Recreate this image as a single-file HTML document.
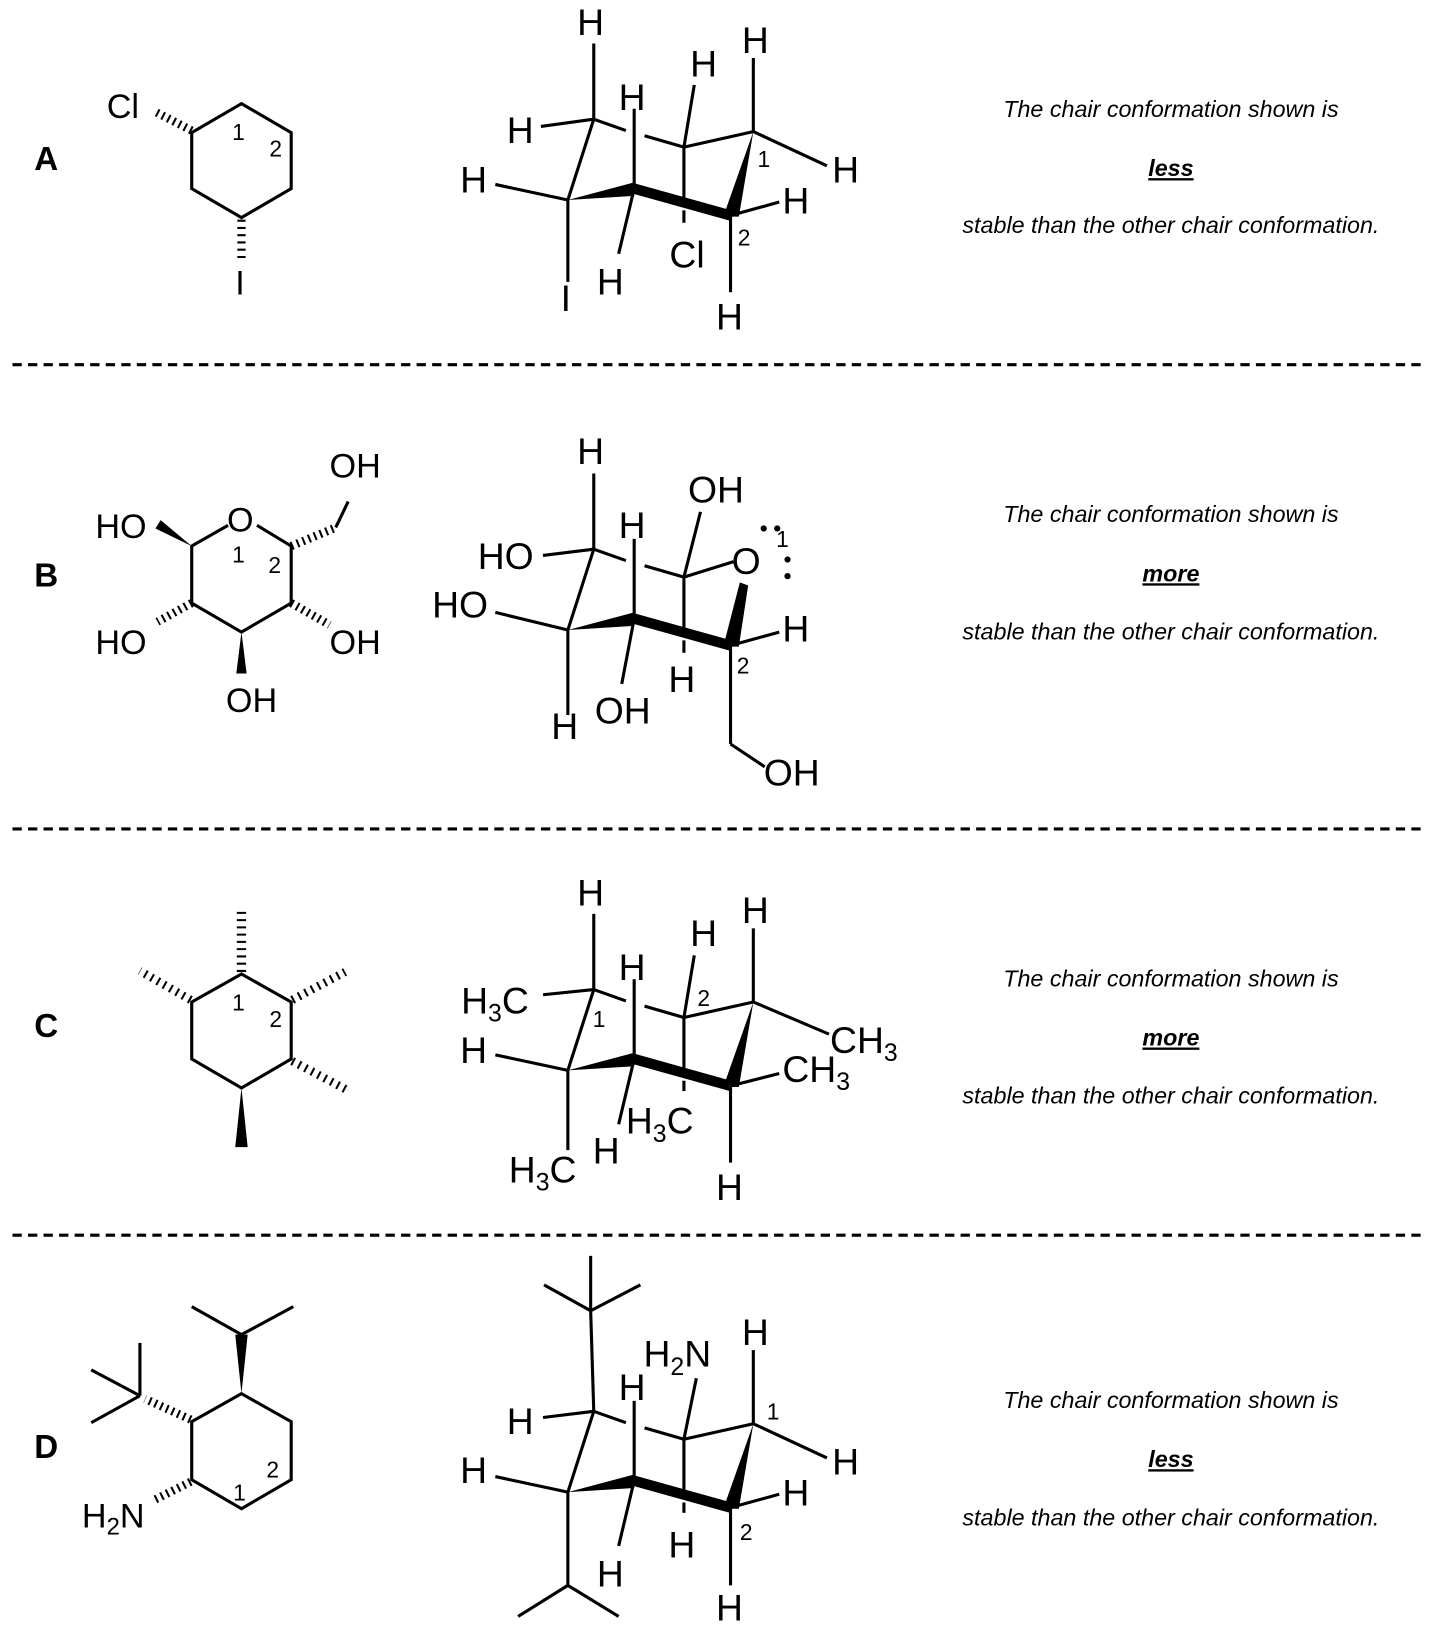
<!DOCTYPE html>
<html><head><meta charset="utf-8"><style>
html,body{margin:0;padding:0;background:#fff}
svg{display:block}
text{font-family:"Liberation Sans",sans-serif;fill:#000}
.a{font-size:36px}
.r{font-size:33px}
.n{font-size:22px}
.L{font-size:32px;font-weight:bold}
.t{font-size:22.5px;font-style:italic}
.tb{font-size:22.5px;font-style:italic;font-weight:bold;text-decoration:underline}
</style></head><body>
<svg width="1430" height="1632" viewBox="0 0 1380 1575" xmlns="http://www.w3.org/2000/svg">
<defs>
<g id="chair" stroke="#000" stroke-width="3" fill="none">
<line x1="573" y1="115" x2="548" y2="193"/>
<polygon points="548,193 612,176 612,189" fill="#000" stroke="none"/>
<line x1="612" y1="182" x2="705" y2="208" stroke-width="10"/>
<polygon points="698,209 713,209 727,127" fill="#000" stroke="none"/>
<line x1="727" y1="127" x2="660" y2="142"/>
<line x1="660" y1="142" x2="622" y2="131"/>
<line x1="604" y1="126" x2="573" y2="115"/>
</g>
</defs>
<g stroke="#000" stroke-width="3" stroke-dasharray="9 6">
<line x1="12" y1="352" x2="1372" y2="352"/>
<line x1="12" y1="800" x2="1372" y2="800"/>
<line x1="12" y1="1192" x2="1372" y2="1192"/>
</g>

<!-- ROW A -->
<text class="L" x="33" y="164">A</text>
<g stroke="#000" stroke-width="3" fill="none">
<polygon points="233,100 281,128 281,182 233,210 185,182 185,128"/>
<line x1="185" y1="126" x2="150" y2="108" stroke-width="8" stroke-dasharray="2 4"/>
<line x1="233" y1="212" x2="233" y2="252" stroke-width="8" stroke-dasharray="2 5"/>
</g>
<text class="r" x="103" y="114">Cl</text>
<text class="r" x="227" y="284">I</text>
<text class="n" x="224" y="135">1</text>
<text class="n" x="260" y="151">2</text>
<use href="#chair"/>
<g stroke="#000" stroke-width="3">
<line x1="573" y1="115" x2="573" y2="42"/>
<line x1="573" y1="115" x2="522" y2="122"/>
<line x1="548" y1="193" x2="478" y2="178"/>
<line x1="548" y1="193" x2="548" y2="272"/>
<line x1="612" y1="182" x2="612" y2="105"/>
<line x1="612" y1="182" x2="597" y2="245"/>
<line x1="660" y1="142" x2="660" y2="192"/>
<line x1="660" y1="203" x2="660" y2="215"/>
<line x1="660" y1="142" x2="670" y2="82"/>
<line x1="727" y1="127" x2="727" y2="56"/>
<line x1="727" y1="127" x2="798" y2="160"/>
<line x1="705" y1="208" x2="705" y2="282"/>
<line x1="705" y1="208" x2="752" y2="195"/>
</g>
<text class="a" x="557" y="34">H</text>
<text class="a" x="489" y="138">H</text>
<text class="a" x="444" y="186">H</text>
<text class="a" x="597" y="106">H</text>
<text class="a" x="541" y="300">I</text>
<text class="a" x="576" y="284">H</text>
<text class="a" x="646" y="258">Cl</text>
<text class="a" x="666" y="74">H</text>
<text class="a" x="716" y="51">H</text>
<text class="a" x="803" y="176">H</text>
<text class="a" x="755" y="206">H</text>
<text class="a" x="691" y="318">H</text>
<text class="n" x="731" y="161">1</text>
<text class="n" x="712" y="237">2</text>
<text class="t" x="1130" y="113" text-anchor="middle">The chair conformation shown is</text>
<text class="tb" x="1130" y="170" text-anchor="middle">less</text>
<text class="t" x="1130" y="225" text-anchor="middle">stable than the other chair conformation.</text>

<!-- ROW B -->
<text class="L" x="33" y="566">B</text>
<g stroke="#000" stroke-width="3" fill="none">
<polyline points="220,507 185,527 185,582 233,610 281,582 281,527 248,507"/>
<line x1="281" y1="527" x2="322" y2="510" stroke-width="8" stroke-dasharray="2 4"/>
<line x1="324" y1="509" x2="336" y2="484"/>
<line x1="281" y1="582" x2="318" y2="603" stroke-width="8" stroke-dasharray="2 4"/>
<line x1="185" y1="582" x2="152" y2="600" stroke-width="8" stroke-dasharray="2 4"/>
</g>
<polygon points="185,527 150,510 155,502" fill="#000"/>
<polygon points="233,610 228,650 238,650" fill="#000"/>
<text class="r" x="219" y="513">O</text>
<text class="r" x="92" y="519">HO</text>
<text class="r" x="318" y="461">OH</text>
<text class="r" x="318" y="631">OH</text>
<text class="r" x="92" y="631">HO</text>
<text class="r" x="218" y="687">OH</text>
<text class="n" x="224" y="543">1</text>
<text class="n" x="259" y="553">2</text>
<g stroke="#000" stroke-width="3" fill="none">
<line x1="573" y1="530" x2="548" y2="608"/>
<line x1="612" y1="597" x2="705" y2="623" stroke-width="10"/>
<line x1="708" y1="542" x2="660" y2="557"/>
<line x1="660" y1="557" x2="622" y2="546"/>
<line x1="604" y1="541" x2="573" y2="530"/>
<line x1="573" y1="530" x2="573" y2="457"/>
<line x1="573" y1="530" x2="524" y2="536"/>
<line x1="548" y1="608" x2="478" y2="591"/>
<line x1="548" y1="608" x2="548" y2="690"/>
<line x1="612" y1="597" x2="612" y2="520"/>
<line x1="612" y1="597" x2="600" y2="660"/>
<line x1="660" y1="557" x2="660" y2="610"/>
<line x1="660" y1="618" x2="660" y2="630"/>
<line x1="660" y1="557" x2="676" y2="494"/>
<line x1="705" y1="623" x2="752" y2="610"/>
<line x1="705" y1="623" x2="705" y2="718"/>
<line x1="705" y1="718" x2="738" y2="740"/>
</g>
<polygon points="698,624 713,624 722,565 714,562" fill="#000"/>
<polygon points="548,608 612,591 612,604" fill="#000"/>
<text class="a" x="706" y="554">O</text>
<circle cx="737" cy="510" r="3"/><circle cx="750" cy="510" r="3"/>
<circle cx="760" cy="540" r="3"/><circle cx="760" cy="556" r="3"/>
<text class="n" x="749" y="528">1</text>
<text class="a" x="557" y="448">H</text>
<text class="a" x="461" y="549">HO</text>
<text class="a" x="417" y="596">HO</text>
<text class="a" x="532" y="713">H</text>
<text class="a" x="597" y="519">H</text>
<text class="a" x="574" y="698">OH</text>
<text class="a" x="645" y="668">H</text>
<text class="a" x="664" y="485">OH</text>
<text class="a" x="755" y="619">H</text>
<text class="a" x="737" y="758">OH</text>
<text class="n" x="711" y="650">2</text>
<text class="t" x="1130" y="504" text-anchor="middle">The chair conformation shown is</text>
<text class="tb" x="1130" y="561" text-anchor="middle">more</text>
<text class="t" x="1130" y="617" text-anchor="middle">stable than the other chair conformation.</text>

<!-- ROW C -->
<text class="L" x="33" y="1001">C</text>
<g stroke="#000" stroke-width="3" fill="none">
<polygon points="233,940 281,967 281,1022 233,1050 185,1022 185,967"/>
<line x1="233" y1="938" x2="233" y2="880" stroke-width="9" stroke-dasharray="2 5"/>
<line x1="184" y1="965" x2="135" y2="937" stroke-width="8" stroke-dasharray="2 5"/>
<line x1="282" y1="965" x2="333" y2="938" stroke-width="8" stroke-dasharray="2 5"/>
<line x1="282" y1="1024" x2="335" y2="1052" stroke-width="8" stroke-dasharray="2 5"/>
</g>
<polygon points="233,1050 227,1107 239,1107" fill="#000"/>
<text class="n" x="224" y="975">1</text>
<text class="n" x="260" y="991">2</text>
<use href="#chair" transform="translate(0,840)"/>
<g stroke="#000" stroke-width="3">
<line x1="573" y1="955" x2="573" y2="882"/>
<line x1="573" y1="955" x2="524" y2="960"/>
<line x1="548" y1="1033" x2="478" y2="1018"/>
<line x1="548" y1="1033" x2="548" y2="1110"/>
<line x1="612" y1="1022" x2="612" y2="945"/>
<line x1="612" y1="1022" x2="597" y2="1085"/>
<line x1="660" y1="982" x2="660" y2="1032"/>
<line x1="660" y1="1043" x2="660" y2="1053"/>
<line x1="660" y1="982" x2="670" y2="922"/>
<line x1="727" y1="967" x2="727" y2="896"/>
<line x1="727" y1="967" x2="800" y2="998"/>
<line x1="705" y1="1048" x2="705" y2="1122"/>
<line x1="705" y1="1048" x2="752" y2="1036"/>
</g>
<text class="a" x="557" y="874">H</text>
<text class="a" x="445" y="978">H<tspan font-size="24" dy="8">3</tspan><tspan dy="-8">C</tspan></text>
<text class="a" x="444" y="1026">H</text>
<text class="a" x="597" y="946">H</text>
<text class="a" x="572" y="1123">H</text>
<text class="a" x="604" y="1094">H<tspan font-size="24" dy="8">3</tspan><tspan dy="-8">C</tspan></text>
<text class="a" x="666" y="913">H</text>
<text class="a" x="716" y="891">H</text>
<text class="a" x="801" y="1016">CH<tspan font-size="24" dy="8">3</tspan></text>
<text class="a" x="755" y="1044">CH<tspan font-size="24" dy="8">3</tspan></text>
<text class="a" x="491" y="1141">H<tspan font-size="24" dy="8">3</tspan><tspan dy="-8">C</tspan></text>
<text class="a" x="691" y="1158">H</text>
<text class="n" x="572" y="991">1</text>
<text class="n" x="673" y="971">2</text>
<text class="t" x="1130" y="952" text-anchor="middle">The chair conformation shown is</text>
<text class="tb" x="1130" y="1009" text-anchor="middle">more</text>
<text class="t" x="1130" y="1065" text-anchor="middle">stable than the other chair conformation.</text>

<!-- ROW D -->
<text class="L" x="33" y="1407">D</text>
<g stroke="#000" stroke-width="3" fill="none">
<polygon points="233,1345 281,1372 281,1428 233,1456 185,1428 185,1372"/>
<line x1="233" y1="1288" x2="185" y2="1261"/>
<line x1="233" y1="1288" x2="283" y2="1261"/>
<line x1="184" y1="1370" x2="140" y2="1350" stroke-width="8" stroke-dasharray="2 4"/>
<line x1="135" y1="1347" x2="88" y2="1322"/>
<line x1="135" y1="1347" x2="88" y2="1373"/>
<line x1="135" y1="1347" x2="135" y2="1296"/>
<line x1="184" y1="1430" x2="150" y2="1447" stroke-width="8" stroke-dasharray="2 4"/>
</g>
<polygon points="233,1345 227,1288 239,1288" fill="#000"/>
<text class="r" x="79" y="1474">H<tspan font-size="23" dy="7">2</tspan><tspan dy="-7">N</tspan></text>
<text class="n" x="225" y="1448">1</text>
<text class="n" x="257" y="1426">2</text>
<use href="#chair" transform="translate(0,1247)"/>
<g stroke="#000" stroke-width="3">
<line x1="573" y1="1362" x2="570" y2="1265"/>
<line x1="570" y1="1265" x2="525" y2="1240"/>
<line x1="570" y1="1265" x2="618" y2="1240"/>
<line x1="570" y1="1265" x2="570" y2="1212"/>
<line x1="573" y1="1362" x2="524" y2="1368"/>
<line x1="548" y1="1440" x2="478" y2="1425"/>
<line x1="548" y1="1440" x2="548" y2="1530"/>
<line x1="548" y1="1530" x2="500" y2="1560"/>
<line x1="548" y1="1530" x2="597" y2="1560"/>
<line x1="612" y1="1429" x2="612" y2="1352"/>
<line x1="612" y1="1429" x2="597" y2="1492"/>
<line x1="660" y1="1389" x2="660" y2="1439"/>
<line x1="660" y1="1450" x2="660" y2="1460"/>
<line x1="660" y1="1389" x2="672" y2="1330"/>
<line x1="727" y1="1374" x2="727" y2="1303"/>
<line x1="727" y1="1374" x2="798" y2="1407"/>
<line x1="705" y1="1455" x2="705" y2="1530"/>
<line x1="705" y1="1455" x2="752" y2="1442"/>
</g>
<text class="a" x="489" y="1384">H</text>
<text class="a" x="444" y="1431">H</text>
<text class="a" x="597" y="1351">H</text>
<text class="a" x="576" y="1531">H</text>
<text class="a" x="621" y="1319">H<tspan font-size="24" dy="8">2</tspan><tspan dy="-8">N</tspan></text>
<text class="a" x="645" y="1503">H</text>
<text class="a" x="716" y="1298">H</text>
<text class="a" x="803" y="1423">H</text>
<text class="a" x="755" y="1453">H</text>
<text class="a" x="691" y="1564">H</text>
<text class="n" x="740" y="1370">1</text>
<text class="n" x="714" y="1486">2</text>
<text class="t" x="1130" y="1359" text-anchor="middle">The chair conformation shown is</text>
<text class="tb" x="1130" y="1416" text-anchor="middle">less</text>
<text class="t" x="1130" y="1472" text-anchor="middle">stable than the other chair conformation.</text>
</svg>
</body></html>
